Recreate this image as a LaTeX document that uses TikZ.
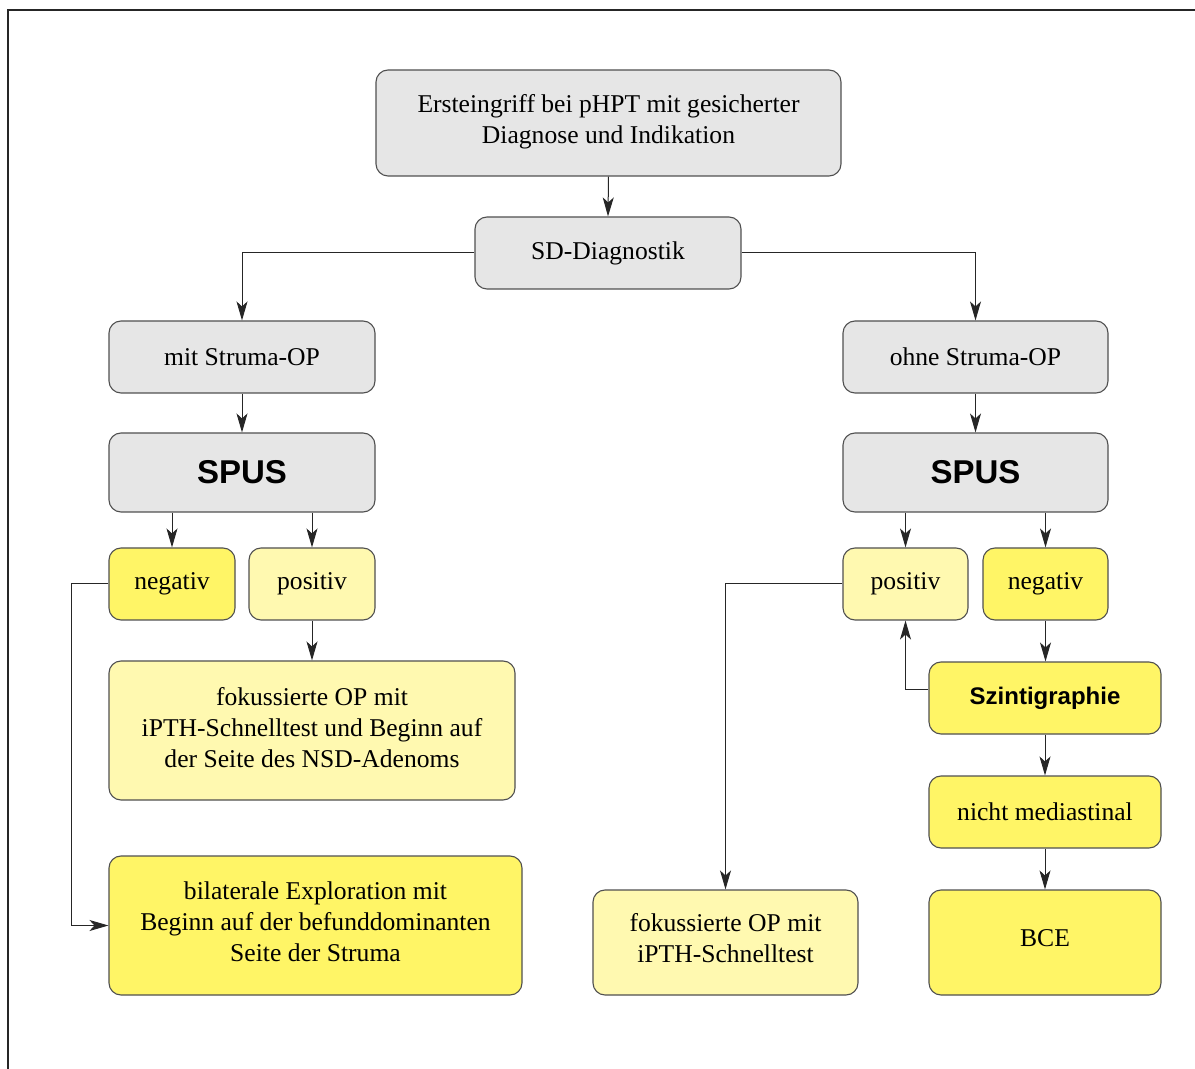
\documentclass[tikz,border=0pt]{standalone}
\usepackage{fontspec}
\setmainfont{Liberation Serif}
\newfontfamily\hsans{Liberation Sans}
\usetikzlibrary{arrows.meta}
\definecolor{gfill}{HTML}{E6E6E6}
\definecolor{lyel}{HTML}{FFF9B0}
\definecolor{dyel}{HTML}{FFF566}
\definecolor{bord}{HTML}{505050}
\tikzset{
  box/.style={draw=bord, line width=0.55pt, rounded corners=6pt, align=center, inner sep=0pt,
    font=\fontsize{12.8}{15.5}\selectfont},
  gbox/.style={box, fill=gfill},
  lbox/.style={box, fill=lyel},
  ybox/.style={box, fill=dyel},
  txt/.style={align=center, inner sep=0pt, font=\fontsize{12.8}{15.5}\selectfont},
  sz/.style 2 args={minimum width=#1*0.5pt, minimum height=#2*0.5pt},
  arr/.style={draw=black!85, line width=0.5pt, -{Stealth[length=9.5pt, width=5.5pt, inset=2.5pt]}},
  frame/.style={draw=black!85, line width=1pt}
}
\begin{document}
\begin{tikzpicture}[x=0.5pt, y=-0.5pt]
\useasboundingbox (0,0) rectangle (1195,1069);
\draw[frame] (8,1069) -- (8,10) -- (1195,10);

\node[gbox, sz={465}{106}] (top) at (608.5,123) {};
\node[txt] (toptxt) at ([yshift=0.5pt]top.center) {Ersteingriff bei pHPT mit gesicherter\\Diagnose und Indikation};
\node[gbox, sz={266}{72}] (sd) at (608,253) {SD-Diagnostik};
\node[gbox, sz={266}{72}] (mit) at (242,357) {mit Struma-OP};
\node[gbox, sz={265}{72}] (ohne) at (975.5,357) {ohne Struma-OP};
\node[gbox, sz={266}{79}, font=\hsans\bfseries\fontsize{16.5}{20}\selectfont] (spusL) at (242,472.5) {SPUS};
\node[gbox, sz={265}{79}, font=\hsans\bfseries\fontsize{16.5}{20}\selectfont] (spusR) at (975.5,472.5) {SPUS};
\node[ybox, sz={126}{72}] (negL) at (172,584) {negativ};
\node[lbox, sz={126}{72}] (posL) at (312,584) {positiv};
\node[lbox, sz={406}{139}] (fokL) at (312,730.5) {};
\node[txt] (fokLtxt) at ([yshift=1.5pt]fokL.center) {fokussierte OP mit\\iPTH-Schnelltest und Beginn auf\\der Seite des NSD-Adenoms};
\node[ybox, sz={413}{139}] (bil) at (315.5,925.5) {};
\node[txt] (biltxt) at ([yshift=2pt]bil.center) {bilaterale Exploration mit\\Beginn auf der befunddominanten\\Seite der Struma};
\node[lbox, sz={125}{72}] (posR) at (905.5,584) {positiv};
\node[ybox, sz={125}{72}] (negR) at (1045.5,584) {negativ};
\node[ybox, sz={232}{72}, font=\hsans\bfseries\fontsize{12}{14}\selectfont] (szint) at (1045,698) {Szintigraphie};
\node[ybox, sz={232}{72}] (nicht) at (1045,812) {nicht mediastinal};
\node[ybox, sz={232}{105}] (bce) at (1045,942.5) {};
\node[txt] (bcetxt) at ([yshift=2pt]bce.center) {BCE};
\node[lbox, sz={265}{105}] (fokR) at (725.5,942.5) {};
\node[txt] (fokRtxt) at ([yshift=2pt]fokR.center) {fokussierte OP mit\\iPTH-Schnelltest};

\draw[arr] (top.south) -- (sd.north);
\draw[arr] (sd.west) -| (mit.north);
\draw[arr] (sd.east) -| (ohne.north);
\draw[arr] (mit.south) -- (spusL.north);
\draw[arr] (ohne.south) -- (spusR.north);
\draw[arr] (negL.north |- spusL.south) -- (negL.north);
\draw[arr] (posL.north |- spusL.south) -- (posL.north);
\draw[arr] (posR.north |- spusR.south) -- (posR.north);
\draw[arr] (negR.north |- spusR.south) -- (negR.north);
\draw[arr] (posL.south) -- (posL.south |- fokL.north);
\draw[arr] (negL.west) -- ++(-37,0) |- (bil.west);
\draw[arr] (posR.west) -| (fokR.north);
\draw[arr] (negR.south) -- (negR.south |- szint.north);
\draw[arr] ([yshift=4.5pt]szint.west) -| (posR.south);
\draw[arr] (szint.south) -- (nicht.north);
\draw[arr] (nicht.south) -- (bce.north);
\end{tikzpicture}
\end{document}
